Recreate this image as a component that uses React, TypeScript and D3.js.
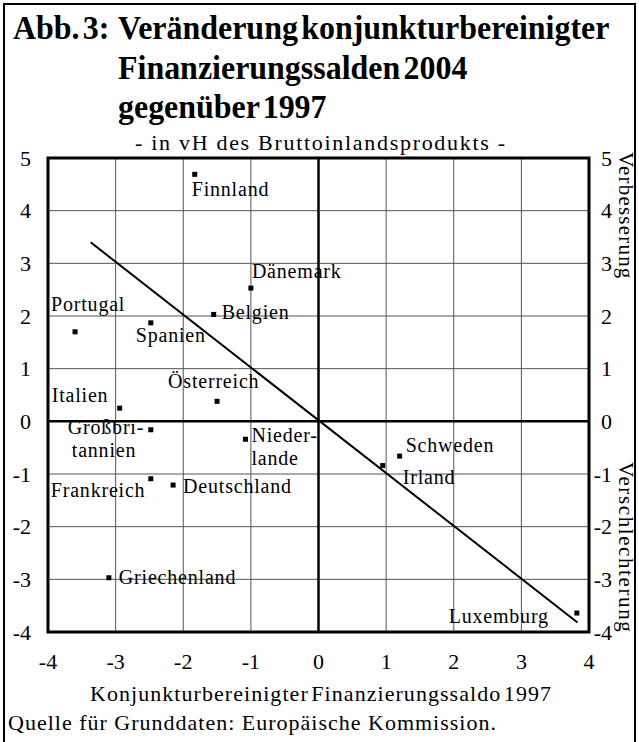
import React from 'react';
import * as d3 from 'd3';

// Konjunkturbereinigter Finanzierungssaldo 1997 (x) und Veränderung 2004 gg. 1997 (y)
const countries = [
  'Finnland', 'Dänemark', 'Belgien', 'Portugal', 'Spanien', 'Österreich', 'Italien',
  'Großbri-\ntannien', 'Nieder-\nlande', 'Frankreich', 'Deutschland', 'Griechenland',
  'Schweden', 'Irland', 'Luxemburg'
];
const saldo1997 = [-1.83, -1.0, -1.55, -3.6, -2.48, -1.5, -2.94, -2.48, -1.08, -2.48, -2.15, -3.1, 1.2, 0.95, 3.82];
const change = [4.69, 2.53, 2.03, 1.7, 1.87, 0.38, 0.25, -0.16, -0.34, -1.09, -1.21, -2.97, -0.66, -0.84, -3.64];

// label placement relative to the marker (px), anchor
const labelPos: [number, number, string][] = [
  [-3, 22, 'start'], [1, -10, 'start'], [8, 5, 'start'], [-24, -21, 'start'],
  [-15, 19, 'start'], [-49, -13, 'start'], [-68, -6, 'start'], [-83, 4, 'start'],
  [6, 3, 'start'], [-100, 18, 'start'], [10, 8, 'start'], [10, 6, 'start'],
  [6, -4, 'start'], [20, 18, 'start'], [-28, 10, 'end']
];

const xTicks = [-4, -3, -2, -1, 0, 1, 2, 3, 4];
const yTicks = [-4, -3, -2, -1, 0, 1, 2, 3, 4, 5];

// Trendlinie
const trendX = [-3.37, 3.83];
const trendY = [3.4, -3.82];

const FONT = '"Liberation Serif", "Times New Roman", serif';

export default function App() {
  const W = 639;
  const H = 742;
  const x = d3.scaleLinear().domain([-4, 4]).range([48, 589]);
  const y = d3.scaleLinear().domain([-4, 5]).range([632, 158]);

  const trend = d3.line<number>()
    .x((d) => x(d))
    .y((_, i) => y(trendY[i]));

  const sx = 0.94; // condensed title

  return (
    <svg width={W} height={H} style={{ position: 'absolute', left: 0, top: 0, display: 'block', background: '#fff' }}
      fontFamily={FONT}>
      {/* outer frame */}
      <path d={`M4,${H + 5}V4H635V${H + 5}`} fill="none" stroke="#000" strokeWidth={2} />

      {/* title */}
      <g fontWeight="bold" fontSize={34} wordSpacing={-5} transform={`scale(${sx},1)`}>
        <text x={13 / sx} y={39}>Abb. 3:</text>
        <text x={118 / sx} y={39}>Veränderung konjunkturbereinigter</text>
        <text x={118 / sx} y={79}>Finanzierungssalden 2004</text>
        <text x={118 / sx} y={118}>gegenüber 1997</text>
      </g>
      <text x={135} y={150} fontSize={22} letterSpacing={1.7}>- in vH des Bruttoinlandsprodukts -</text>

      {/* grid */}
      <g stroke="#555" strokeWidth={1}>
        {xTicks.map((t) => (
          <line key={'gx' + t} x1={x(t)} x2={x(t)} y1={y(5)} y2={y(-4)} />
        ))}
        {yTicks.map((t) => (
          <line key={'gy' + t} x1={x(-4)} x2={x(4)} y1={y(t)} y2={y(t)} />
        ))}
      </g>
      <line x1={x(0)} x2={x(0)} y1={y(5)} y2={y(-4)} stroke="#000" strokeWidth={2.5} />
      <line x1={x(-4)} x2={x(4)} y1={y(0)} y2={y(0)} stroke="#000" strokeWidth={2.5} />
      <rect x={x(-4)} y={y(5)} width={x(4) - x(-4)} height={y(-4) - y(5)} fill="none" stroke="#000" strokeWidth={3} />

      {/* trend line */}
      <path d={trend(trendX) || ''} fill="none" stroke="#000" strokeWidth={2} />

      {/* tick labels */}
      <g fontSize={22}>
        {yTicks.map((t) => (
          <text key={'yl' + t} x={31} y={y(t)} dy="0.35em" textAnchor="end">{t}</text>
        ))}
        {yTicks.map((t) => (
          <text key={'yr' + t} x={612} y={y(t)} dy="0.35em" textAnchor="end">{t}</text>
        ))}
        {xTicks.map((t) => (
          <text key={'xl' + t} x={x(t)} y={669} textAnchor="middle">{t}</text>
        ))}
      </g>

      {/* points + labels */}
      {countries.map((c, i) => {
        const px = x(saldo1997[i]);
        const py = y(change[i]);
        const [dx, dy, anchor] = labelPos[i];
        const lines = c.split('\n');
        return (
          <g key={c}>
            <rect x={px - 2.5} y={py - 2.5} width={5} height={5} fill="#000" />
            <text x={px + dx} y={py + dy} fontSize={20} letterSpacing={0.8} textAnchor={anchor}>
              {lines.map((l, j) => (
                <tspan key={j} x={px + dx + (j > 0 && i === 7 ? 4 : 0)} dy={j === 0 ? 0 : 23}>{l}</tspan>
              ))}
            </text>
          </g>
        );
      })}

      {/* right side captions */}
      <g fontSize={21}>
        <text transform="translate(619,152) rotate(90)" letterSpacing={1.2}>Verbesserung</text>
        <text transform="translate(619,462) rotate(90)" letterSpacing={1.6}>Verschlechterung</text>
      </g>

      {/* axis title and source */}
      <text x={90} y={701} fontSize={22} letterSpacing={1.05} wordSpacing={-4}>Konjunkturbereinigter Finanzierungssaldo 1997</text>
      <text x={8} y={730} fontSize={22} letterSpacing={1.0}>Quelle für Grunddaten: Europäische Kommission.</text>
    </svg>
  );
}
